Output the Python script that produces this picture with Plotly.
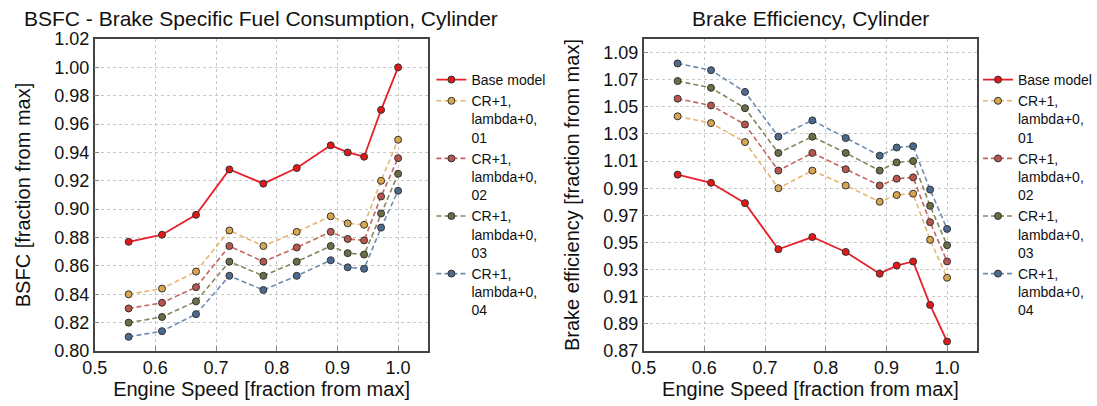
import plotly.graph_objects as go

# Engine speed points (fraction of max speed)
speed = [0.556, 0.611, 0.667, 0.722, 0.778, 0.833, 0.889, 0.917, 0.944, 0.972, 1.000]

series_names = ["Base model",
                "CR+1,<br>lambda+0,<br>01",
                "CR+1,<br>lambda+0,<br>02",
                "CR+1,<br>lambda+0,<br>03",
                "CR+1,<br>lambda+0,<br>04"]

# BSFC, fraction of max
bsfc_base = [0.877, 0.882, 0.896, 0.928, 0.918, 0.929, 0.945, 0.940, 0.937, 0.970, 1.000]
bsfc_cr01 = [0.840, 0.844, 0.856, 0.885, 0.874, 0.884, 0.895, 0.890, 0.889, 0.920, 0.949]
bsfc_cr02 = [0.830, 0.834, 0.845, 0.874, 0.863, 0.873, 0.884, 0.879, 0.878, 0.909, 0.936]
bsfc_cr03 = [0.820, 0.824, 0.835, 0.863, 0.853, 0.863, 0.874, 0.869, 0.868, 0.897, 0.925]
bsfc_cr04 = [0.810, 0.814, 0.826, 0.853, 0.843, 0.853, 0.864, 0.859, 0.858, 0.887, 0.913]

# Brake efficiency, fraction of max
eff_base = [1.000, 0.994, 0.979, 0.945, 0.954, 0.943, 0.927, 0.933, 0.936, 0.904, 0.877]
eff_cr01 = [1.043, 1.038, 1.024, 0.990, 1.003, 0.992, 0.980, 0.985, 0.986, 0.952, 0.924]
eff_cr02 = [1.056, 1.051, 1.037, 1.003, 1.016, 1.004, 0.992, 0.997, 0.998, 0.965, 0.936]
eff_cr03 = [1.069, 1.064, 1.049, 1.016, 1.028, 1.016, 1.003, 1.009, 1.010, 0.977, 0.948]
eff_cr04 = [1.082, 1.077, 1.061, 1.028, 1.040, 1.027, 1.014, 1.020, 1.021, 0.989, 0.960]

x_ticks = [0.5, 0.6, 0.7, 0.8, 0.9, 1.0]
bsfc_ticks = [0.80, 0.82, 0.84, 0.86, 0.88, 0.90, 0.92, 0.94, 0.96, 0.98, 1.00, 1.02]
eff_ticks = [0.87, 0.89, 0.91, 0.93, 0.95, 0.97, 0.99, 1.01, 1.03, 1.05, 1.07, 1.09]

line_colors = ["#e8202a", "#e6b66e", "#c4665e", "#86865c", "#6c8cb0"]
marker_colors = ["#e01818", "#d9a650", "#b8554c", "#6c6c46", "#4c6a8e"]

FONT = "Liberation Sans, Arial, sans-serif"
W, H = 1097, 406

fig = go.Figure()


def add_series(ys, xaxis, yaxis, legend):
    for i, (name, y) in enumerate(zip(series_names, ys)):
        fig.add_trace(go.Scatter(
            x=speed, y=y, name=name, mode="lines+markers",
            xaxis=xaxis, yaxis=yaxis, legend=legend,
            line=dict(color=line_colors[i], width=1.8 if i == 0 else 1.6,
                      dash="solid" if i == 0 else "5px,3px"),
            marker=dict(size=7, color=marker_colors[i],
                        line=dict(color="#333333", width=1)),
        ))


add_series([bsfc_base, bsfc_cr01, bsfc_cr02, bsfc_cr03, bsfc_cr04], "x", "y", "legend")
add_series([eff_base, eff_cr01, eff_cr02, eff_cr03, eff_cr04], "x2", "y2", "legend2")

ydom = [1 - 351 / H, 1 - 39 / H]
axis_common = dict(
    showline=True, linecolor="#444444", linewidth=1.5, mirror=True,
    showgrid=True, gridcolor="#c8c8c8", griddash="dot", gridwidth=1,
    ticks="inside", ticklen=5, tickcolor="#888888",
    zeroline=False, automargin=False,
    tickfont=dict(family=FONT, size=18, color="#111111"),
)

x_title = dict(text="Engine Speed [fraction from max]",
               font=dict(family=FONT, size=20, color="#111111"), standoff=4)

legend_common = dict(
    yanchor="top", xanchor="left", y=1 - 64 / H, valign="top",
    font=dict(family=FONT, size=14, color="#111111"),
    bgcolor="rgba(0,0,0,0)", tracegroupgap=0, itemwidth=30,
)

fig.update_layout(
    width=W, height=H,
    margin=dict(l=0, r=0, t=0, b=0),
    paper_bgcolor="white", plot_bgcolor="white",
    font=dict(family=FONT, color="#111111"),
    xaxis=dict(domain=[95 / W, 430 / W], range=[0.5, 1.05], tickvals=x_ticks,
               tickformat=".1f", anchor="y", title=x_title, **axis_common),
    yaxis=dict(domain=ydom, range=[0.80, 1.02], tickvals=bsfc_ticks,
               tickformat=".2f", anchor="x",
               title=dict(text="BSFC [fraction from max]",
                          font=dict(family=FONT, size=20, color="#111111"), standoff=18),
               **axis_common),
    xaxis2=dict(domain=[646 / W, 981 / W], range=[0.5, 1.05], tickvals=x_ticks,
                tickformat=".1f", anchor="y2", title=x_title, **axis_common),
    yaxis2=dict(domain=ydom, range=[0.87, 1.10], tickvals=eff_ticks,
                tickformat=".2f", anchor="x2",
                title=dict(text="Brake efficiency [fraction from max]",
                           font=dict(family=FONT, size=20, color="#111111"), standoff=18),
                **axis_common),
    legend=dict(x=433 / W, **legend_common),
    legend2=dict(x=982 / W, **legend_common),
    annotations=[
        dict(text="BSFC - Brake Specific Fuel Consumption, Cylinder",
             x=262 / W, y=1 - 18 / H, xref="paper", yref="paper",
             xanchor="center", yanchor="middle", showarrow=False,
             font=dict(family=FONT, size=21, color="#111111")),
        dict(text="Brake Efficiency, Cylinder",
             x=813 / W, y=1 - 18 / H, xref="paper", yref="paper",
             xanchor="center", yanchor="middle", showarrow=False,
             font=dict(family=FONT, size=21, color="#111111")),
    ],
)

fig.write_html("out.html")
